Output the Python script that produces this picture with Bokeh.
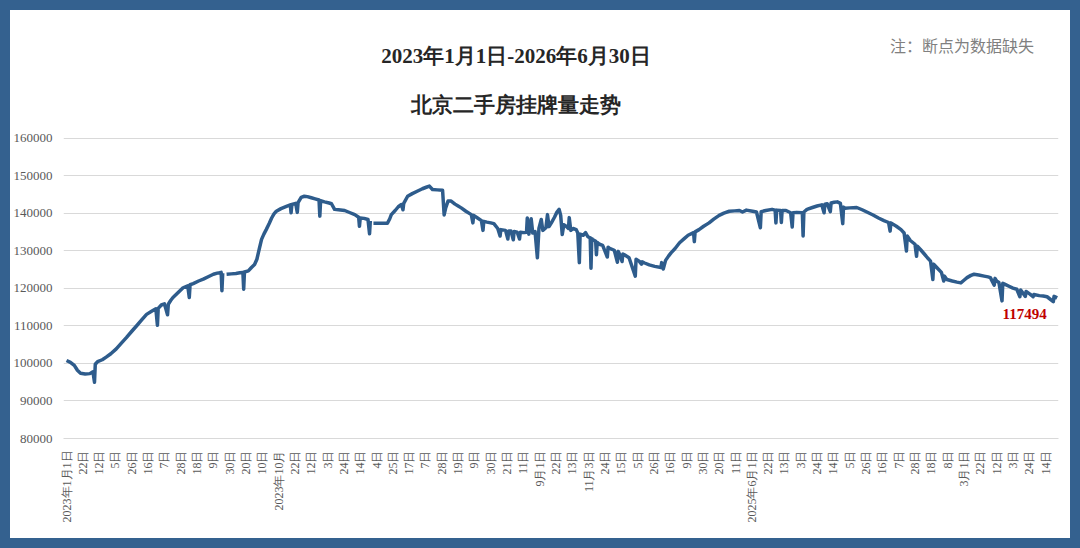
import numpy as np
from bokeh.plotting import figure
from bokeh.models import FixedTicker, Label, Range1d, NumeralTickFormatter
from bokeh.embed import file_html
from bokeh.resources import INLINE

# ---- data: days since 2023-01-01 and listing counts (nan = missing data) ----
nan = float("nan")

day_a = [0, 5, 10, 14, 18, 24, 30, 34, 36, 37,
         40, 46, 51, 57, 64, 70, 77, 84, 90, 97,
         103, 110, 115, 117, 118, 122, 126, 130, 131, 134,
         137, 143, 150, 156, 158, 159, 163, 170, 176, 183,
         189, 194, 197, 199, 200, 201, 203, 206, 212, 218,
         223, 227, 228, 229, 234, 238, 242, 245, 248, 251,
         254, 257, 261, 264, 267, 270, 276, 283, 288, 289,
         290, 295, 297, 298, 302, 306, 310, 315, 320, 325,
         326, 327, 332, 338, 341, 345, 350, 358]
val_a = [100800, 100300, 99500, 98200, 97400, 97200, 97300, 97800, 95000, 99800,
         100500, 101000, 101700, 102600, 103900, 105300, 106900, 108600, 110000, 111700,
         113100, 114000, 114600, 110200, 114700, 115600, 115900, 113000, 115800, 116800,
         117600, 118800, 120200, 120700, 117600, 121000, 121300, 122000, 122500, 123200,
         123800, 124100, 124200, 124300, 119400, 124100, nan, 123800, 123900, 124000,
         124200, 124300, 119800, 124400, 124700, 125600, 126400, 127800, 130500, 133100,
         134500, 135700, 137400, 138800, 139900, 140600, 141300, 141900, 142300, 140200,
         142400, 142700, 140300, 142900, 144300, 144600, 144500, 144200, 143900, 143600,
         139300, 143400, 143100, 142800, 142600, 141100, 141000, 140800]

day_b = [365, 371, 376, 377, 378, 383, 388, 390, 391, 393,
         395, 405, 413, 416, 418, 423, 427, 431, 433, 434,
         439, 445, 452, 458, 463, 467, 471, 477, 484, 486,
         488, 491, 495, 500, 504, 508, 514, 521, 523, 524,
         529, 534, 536, 537, 541, 546, 550, 555, 558, 559,
         565, 568, 569, 572, 575, 576, 580, 583, 584, 589,
         592, 593, 595, 598, 600, 603, 606, 608, 611, 613,
         617, 619, 621, 624, 628, 631, 634, 636, 638, 640,
         643, 646, 647, 649, 652, 656, 658, 660, 661, 665,
         668, 671, 674, 675, 676, 677, 681, 682, 683, 686,
         690, 696, 697, 699, 705, 709, 710, 711, 715, 716,
         718, 724, 732, 733, 737, 740, 741, 744]
val_b = [140200, 139700, 139000, 136600, 138800, 138700, 138400, 134600, 138000, nan,
         137400, 137400, 137400, 138600, 139700, 140800, 141800, 142400, 141000, 142700,
         144600, 145300, 146000, 146600, 147000, 147300, 146400, 146300, 146200, 139600,
         141500, 143300, 143300, 142500, 142000, 141500, 140600, 139700, 137500, 139500,
         138800, 138100, 135500, 137900, 137700, 137500, 137300, 136000, 134000, 135700,
         135500, 133200, 135300, 135300, 133000, 135200, 135000, 133200, 135000, 134900,
         135000, 138800, 134500, 138600, 134800, 135200, 128200, 136000, 138400, 135500,
         136200, 139700, 136500, 137500, 139000, 140300, 141100, 139500, 134400, 137000,
         136600, 136000, 138900, 135500, 136000, 135700, 134800, 126900, 134500, 134200,
         134900, 133800, 133500, 125400, 133300, 133100, 132600, 129000, 132300, 131800,
         131500, 128400, 131000, 130700, 130200, 127000, 129900, 129500, 127200, 129200,
         129000, 128200, 123300, 127800, 127300, 126500, 127100, 126800]

day_c = [750, 757, 765, 766, 768, 771, 775, 778, 783, 789,
         795, 800, 807, 808, 809, 814, 820, 827, 833, 840,
         846, 853, 860, 866, 870, 875, 883, 888, 893, 894,
         900, 908, 912, 913, 914, 919, 920, 921, 926, 932,
         934, 935, 940, 947, 948, 949, 953, 960, 966, 972,
         975, 976, 979, 983, 984, 988, 992, 996, 999, 1000,
         1002, 1008, 1017, 1024, 1032, 1038, 1045, 1052, 1058, 1060,
         1061, 1068, 1074, 1078, 1081, 1082, 1086, 1092, 1094, 1095,
         1099, 1104, 1108, 1112, 1115, 1116, 1120, 1126, 1129, 1130,
         1133, 1140, 1146, 1151, 1155, 1159, 1164, 1168, 1174, 1181,
         1186, 1189, 1194, 1195, 1197, 1200, 1204, 1205, 1208, 1213,
         1218, 1223, 1227, 1228, 1234, 1235, 1240, 1244, 1245, 1252,
         1257, 1262, 1270, 1271, 1275]
val_c = [126300, 125900, 125600, 126900, 125200, 127500, 128700, 129500, 130600, 132200,
         133300, 134200, 134900, 132500, 135100, 135700, 136600, 137500, 138500, 139500,
         140100, 140600, 140700, 140800, 140400, 140900, 140600, 140400, 136200, 140500,
         140800, 141100, 140900, 137500, 140900, 140800, 137600, 140800, 140800, 140200,
         136400, 140200, 140300, 140200, 134000, 140400, 141100, 141600, 142000, 142300,
         140200, 142500, 142600, 140500, 142800, 143000, 143100, 142700, 137300, 141700,
         141400, 141500, 141600, 141000, 140200, 139600, 138800, 138100, 137600, 135300,
         137500, 136600, 135700, 134800, 130000, 134000, 132800, 131800, 128600, 131300,
         130400, 129200, 128200, 127300, 122400, 126500, 125600, 124300, 122000, 123300,
         122400, 122000, 121700, 121500, 122200, 122900, 123500, 123800, 123600, 123300,
         123100, 122900, 120900, 122700, 122000, 121600, 116700, 121400, 121100, 120600,
         120100, 119800, 117800, 119600, 117900, 119200, 118500, 117800, 118400, 118100,
         118000, 117800, 116500, 117900, 117494]

last_value_label = "117494"

y_ticks = [80000, 90000, 100000, 110000, 120000, 130000, 140000, 150000, 160000]

# tick every 21 days starting 2023-01-01
tick_labels = ["2023年1月1日", "22日", "12日", "5日", "26日", "16日", "7日", "28日", "18日", "9日",
               "30日", "20日", "10日", "2023年10月", "22日", "12日", "3日", "24日",
               "14日", "4日", "25日", "17日", "7日", "28日", "19日", "9日", "30日", "21日",
               "11日", "9月1日", "22日", "13日", "11月3日", "24日", "15日",
               "5日", "26日", "16日", "9日", "30日", "20日", "11日", "2025年6月1日", "22日", "13日",
               "3日", "24日", "14日", "5日", "26日", "16日", "7日", "28日",
               "18日", "8日", "3月1日", "22日", "12日", "3日", "24日", "14日"]
tick_step_days = 21

title_1 = "2023年1月1日-2026年6月30日"
title_2 = "北京二手房挂牌量走势"
note = "注：断点为数据缺失"

# ---- build ----
x = np.array(day_a + day_b + day_c, dtype=float)
y = np.array(val_a + val_b + val_c, dtype=float)
tick_days = [i * tick_step_days for i in range(len(tick_labels))]

p = figure(width=1060, height=528, output_backend="svg", toolbar_location=None, title=None,
           x_range=Range1d(-3.9, 1276.7), y_range=Range1d(80000, 194133),
           min_border_left=52, min_border_right=12, min_border_top=0, min_border_bottom=100)
p.outline_line_color = None
p.background_fill_color = "white"
p.border_fill_color = "white"
p.styles = {"margin": "10px", "box-shadow": "0 0 0 10px #34618f"}

p.line(x, y, line_color="#2e5c8c", line_width=3.5, line_join="round")

p.xgrid.grid_line_color = None
p.ygrid.grid_line_color = "#d9d9d9"
p.ygrid.grid_line_width = 1

p.yaxis.ticker = FixedTicker(ticks=y_ticks)
p.yaxis.formatter = NumeralTickFormatter(format="0")
p.yaxis.axis_line_color = None
p.yaxis.major_tick_line_color = None
p.yaxis.minor_tick_line_color = None
p.yaxis.major_label_standoff = 5
p.yaxis.major_label_text_font = "Liberation Serif"
p.yaxis.major_label_text_font_size = "13px"
p.yaxis.major_label_text_color = "#595959"

p.xaxis.ticker = FixedTicker(ticks=tick_days)
p.xaxis.major_label_overrides = {d: lab for d, lab in zip(tick_days, tick_labels)}
p.xaxis.major_label_orientation = np.pi / 2
p.xaxis.axis_line_color = "#d9d9d9"
p.xaxis.major_tick_line_color = None
p.xaxis.minor_tick_line_color = None
p.xaxis.major_label_standoff = 6
p.xaxis.major_label_text_font = "Liberation Serif"
p.xaxis.major_label_text_font_size = "12px"
p.xaxis.major_label_text_color = "#595959"

p.add_layout(Label(x=578.6, y=182133, text=title_1, text_align="center", text_baseline="middle",
                   text_font="Liberation Serif", text_font_style="bold", text_font_size="21px",
                   text_color="#262626"))
p.add_layout(Label(x=578.6, y=168800, text=title_2, text_align="center", text_baseline="middle",
                   text_font="Liberation Serif", text_font_style="bold", text_font_size="21px",
                   text_color="#262626"))
p.add_layout(Label(x=1152.6, y=184800, text=note, text_align="center", text_baseline="middle",
                   text_font="Noto Sans CJK SC", text_font_size="16px", text_color="#808080"))
p.add_layout(Label(x=1233, y=113333, text=last_value_label, text_align="center", text_baseline="middle",
                   text_font="Liberation Serif", text_font_style="bold", text_font_size="15px",
                   text_color="#c00000"))

open("out.html", "w").write(file_html(p, INLINE))
